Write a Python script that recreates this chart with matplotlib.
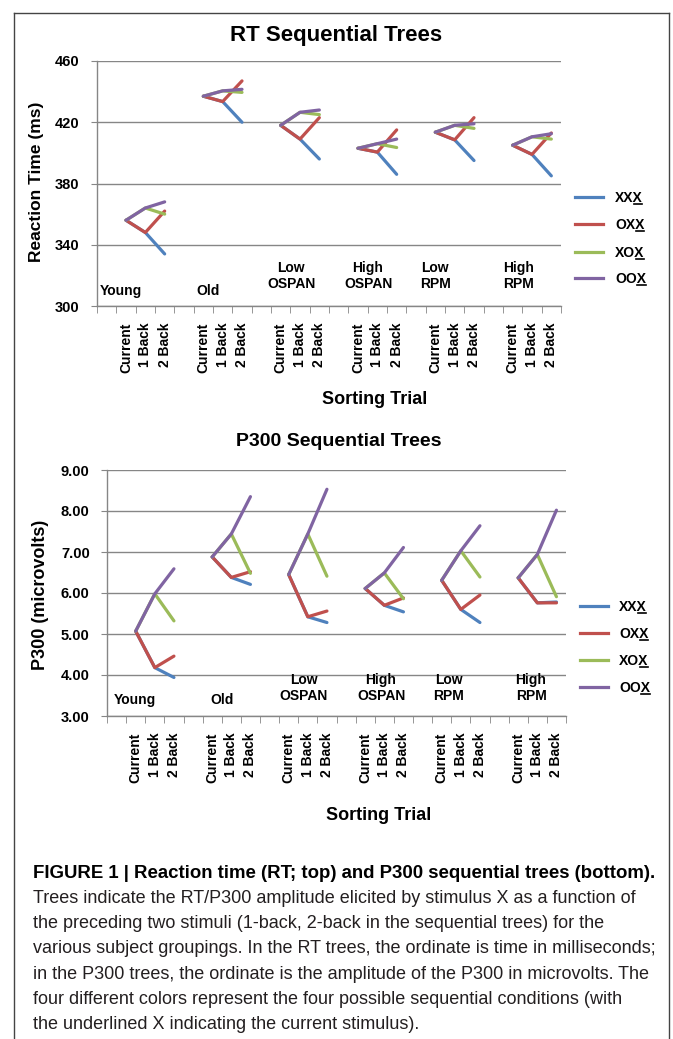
import numpy as np
import matplotlib
matplotlib.use("Agg")
import matplotlib.pyplot as plt
from matplotlib.lines import Line2D
from matplotlib.transforms import blended_transform_factory

plt.rcParams['font.family'] = ['Liberation Sans', 'DejaVu Sans']

W, H = 673, 1039

# ---- data ----
groups = ["Young", "Old", "Low\nOSPAN", "High\nOSPAN", "Low\nRPM", "High\nRPM"]
trials = ["Current", "1 Back", "2 Back"]
series = ["XXX", "OXX", "XOX", "OOX"]
colors = ["#4F81BD", "#C0504D", "#9BBB59", "#8064A2"]

# reaction time (ms)
rt_current = [356, 437, 418, 403, 413.5, 405]
rt_back1_x = [348, 433.5, 409, 400.5, 408.5, 399]
rt_back1_o = [364, 440.5, 426.5, 406, 418, 410.5]
rt_xxx = [334, 420, 396, 386, 395, 385]
rt_oxx = [362, 447, 423, 415, 423, 413]
rt_xox = [360, 439.5, 425, 403.5, 416, 409]
rt_oox = [368, 441.5, 428, 409, 419, 412.5]

# P300 amplitude (microvolts)
p3_current = [5.07, 6.88, 6.45, 6.11, 6.31, 6.37]
p3_back1_x = [4.18, 6.38, 5.42, 5.70, 5.60, 5.76]
p3_back1_o = [5.98, 7.44, 7.44, 6.49, 7.03, 6.94]
p3_xxx = [3.94, 6.21, 5.28, 5.54, 5.28, 5.78]
p3_oxx = [4.46, 6.52, 5.56, 5.88, 5.95, 5.76]
p3_xox = [5.32, 6.48, 6.41, 5.86, 6.39, 5.91]
p3_oox = [6.59, 8.35, 8.53, 7.11, 7.64, 8.02]

rt_ticks = [300, 340, 380, 420, 460]
p3_ticks = [3, 4, 5, 6, 7, 8, 9]

caption_bold = "FIGURE 1 | Reaction time (RT; top) and P300 sequential trees (bottom)."
caption_lines = [
    "Trees indicate the RT/P300 amplitude elicited by stimulus X as a function of",
    "the preceding two stimuli (1-back, 2-back in the sequential trees) for the",
    "various subject groupings. In the RT trees, the ordinate is time in milliseconds;",
    "in the P300 trees, the ordinate is the amplitude of the P300 in microvolts. The",
    "four different colors represent the four possible sequential conditions (with",
    "the underlined X indicating the current stimulus).",
]

cat_labels = ([""] + trials) * len(groups)
ncat = len(cat_labels)


def tree_rows(current, b1x, b1o, xxx, oxx, xox, oox):
    # each series: blank, Current, 1 Back, 2 Back per group
    rows = []
    for b1, b2 in zip([b1x, b1x, b1o, b1o], [xxx, oxx, xox, oox]):
        row = np.full(ncat, np.nan)
        for g in range(len(groups)):
            row[4 * g + 1] = current[g]
            row[4 * g + 2] = b1[g]
            row[4 * g + 3] = b2[g]
        rows.append(row)
    return rows


def px(x, y):
    return x / W, 1 - y / H


fig = plt.figure(figsize=(W / 100, H / 100), dpi=100)
grey = "#868686"


def draw_tree(rect, rows, ticks, fmt, ylabel, lab_pos, lab_y):
    l, t, r, b = rect
    ax = fig.add_axes([l / W, 1 - b / H, (r - l) / W, (b - t) / H])
    x = np.arange(ncat)
    for row, c, name in zip(rows, colors, series):
        ax.plot(x, row, color=c, lw=2.3, solid_capstyle='round', label=name)
    ax.set_xlim(-0.5, ncat - 0.5)
    ax.set_ylim(ticks[0], ticks[-1])
    ax.set_yticks(ticks)
    ax.set_yticklabels([fmt.format(v) for v in ticks], fontweight='bold', fontsize=10.5)
    ax.set_xticks(x)
    ax.set_xticklabels(cat_labels, rotation=90, fontweight='bold', fontsize=10, va='top')
    ax.set_xticks(np.arange(-0.5, ncat, 1), minor=True)
    ax.tick_params(axis='x', which='major', length=0, pad=12)
    ax.tick_params(axis='x', which='minor', length=5, color=grey, direction='out')
    ax.tick_params(axis='y', length=4, color=grey, direction='out', pad=8.5)
    ax.grid(axis='y', color=grey, lw=1)
    ax.set_axisbelow(True)
    for s in ['top', 'right']:
        ax.spines[s].set_visible(False)
    for s in ['left', 'bottom']:
        ax.spines[s].set_color(grey)
        ax.spines[s].set_linewidth(1)
    tr = blended_transform_factory(ax.transData, ax.transAxes)
    for name, gx, gy in zip(groups, lab_pos, lab_y):
        ax.text(gx, (b - gy) / (b - t), name, transform=tr, ha='center', va='center',
                fontweight='bold', fontsize=10, linespacing=1.1, multialignment='center')
    return ax


ax1 = draw_tree((97, 61, 561, 306), tree_rows(rt_current, rt_back1_x, rt_back1_o,
                                              rt_xxx, rt_oxx, rt_xox, rt_oox),
                rt_ticks, "{:d}", "Reaction Time (ms)",
                [0.74, 5.24, 9.54, 13.52, 17.0, 21.28], [291, 291, 276, 276, 276, 276])
ax2 = draw_tree((107, 470, 566, 716), tree_rows(p3_current, p3_back1_x, p3_back1_o,
                                                p3_xxx, p3_oxx, p3_xox, p3_oox),
                p3_ticks, "{:.2f}", "P300 (microvolts)",
                [0.96, 5.51, 9.8, 13.83, 17.38, 21.67], [700, 700, 688, 688, 688, 688])

# titles and axis labels
fig.text(*px(336, 35), "RT Sequential Trees", ha='center', va='center', fontsize=16, fontweight='bold')
fig.text(*px(339, 442), "P300 Sequential Trees", ha='center', va='center', fontsize=14, fontweight='bold')
fig.text(*px(37, 182), "Reaction Time (ms)", rotation=90, ha='center', va='center', fontsize=12.5, fontweight='bold')
fig.text(*px(41, 595), "P300 (microvolts)", rotation=90, ha='center', va='center', fontsize=13, fontweight='bold')
fig.text(*px(375, 400), "Sorting Trial", ha='center', va='center', fontsize=13, fontweight='bold')
fig.text(*px(379, 815), "Sorting Trial", ha='center', va='center', fontsize=13, fontweight='bold')

# legends
leg_texts = []
for (lx0, lx1, tx, ys) in [(575, 603, 615, [197, 224, 252, 278]),
                           (580, 608, 619, [606, 633, 660, 687])]:
    for name, c, y in zip(series, colors, ys):
        fig.add_artist(Line2D([lx0 / W, lx1 / W], [1 - y / H] * 2, color=c, lw=2.3))
        t = fig.text(*px(tx, y + 5), name, ha='left', va='baseline', fontsize=10, fontweight='bold')
        leg_texts.append((t, y + 5))

# frame
fig.add_artist(Line2D([13.5 / W, 13.5 / W], [0, 1 - 13 / H], color='#444444', lw=1))
fig.add_artist(Line2D([668.5 / W, 668.5 / W], [0, 1 - 13 / H], color='#444444', lw=1))
fig.add_artist(Line2D([13.5 / W, 668.5 / W], [1 - 13 / H] * 2, color='#444444', lw=1))

# caption
cap_font = ['Liberation Sans Narrow', 'Liberation Sans', 'DejaVu Sans']
cb = fig.text(*px(33, 873), caption_bold, ha='left', va='center', fontsize=12,
              fontweight='bold', family=cap_font)
cts = []
for i, line in enumerate(caption_lines):
    cts.append(fig.text(*px(33, 898.5 + i * 25.2), line, ha='left', va='center',
                        fontsize=12, family=cap_font, color='#231f20'))

fig.canvas.draw()
rend = fig.canvas.get_renderer()
# fit caption widths to the box
target = 622
wb = cb.get_window_extent(rend).width
cb.set_fontsize(12 * target / wb)
wl = max(t.get_window_extent(rend).width for t in cts)
for t in cts:
    t.set_fontsize(12 * target / wl)

# underline the last X of each legend label
for t, yb in leg_texts:
    bb = t.get_window_extent(rend)
    w, h, d = rend.get_text_width_height_descent("X", t.get_fontproperties(), ismath=False)
    fig.add_artist(Line2D([(bb.x1 - w + 0.5) / W, (bb.x1 - 0.5) / W], [1 - (yb + 2) / H] * 2,
                          color='black', lw=1.2))

fig.savefig("out.png", dpi=100)
